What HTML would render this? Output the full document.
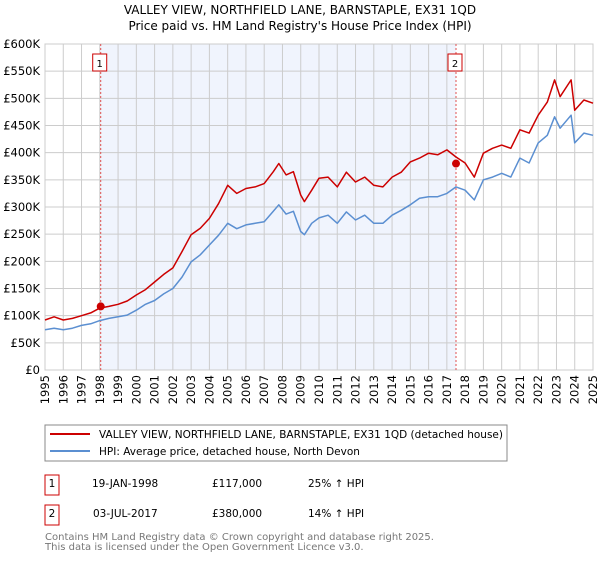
<!DOCTYPE html>
<html><head><meta charset="utf-8"><style>
body{margin:0;background:#fff;font-family:"DejaVu Sans","Liberation Sans",sans-serif;}
svg text{font-family:"DejaVu Sans","Liberation Sans",sans-serif;}
</style></head><body>
<svg id="chart" width="600" height="560" viewBox="0 0 600 560" xmlns="http://www.w3.org/2000/svg">
<text x="300" y="14" font-size="12" text-anchor="middle">VALLEY VIEW, NORTHFIELD LANE, BARNSTAPLE, EX31 1QD</text>
<text x="300" y="30" font-size="12" text-anchor="middle">Price paid vs. HM Land Registry's House Price Index (HPI)</text>
<g id="plot"></g>
<g>
<rect x="45" y="425" width="462" height="36" fill="#fff" stroke="#888"/>
<line x1="50" y1="434" x2="90" y2="434" stroke="#cc0000" stroke-width="2"/>
<text x="99" y="438" font-size="10.5">VALLEY VIEW, NORTHFIELD LANE, BARNSTAPLE, EX31 1QD (detached house)</text>
<line x1="50" y1="451" x2="90" y2="451" stroke="#5b8fd1" stroke-width="2"/>
<text x="99" y="455" font-size="10.5">HPI: Average price, detached house, North Devon</text>
</g>
<g font-size="10.5">
<rect x="45" y="475" width="14" height="20" fill="none" stroke="#cc0000"/>
<text x="52" y="487" text-anchor="middle">1</text>
<text x="92" y="487">19-JAN-1998</text>
<text x="212" y="487">£117,000</text>
<text x="308" y="487">25% ↑ HPI</text>
</g>
<g font-size="10.5">
<rect x="45" y="505" width="14" height="20" fill="none" stroke="#cc0000"/>
<text x="52" y="517" text-anchor="middle">2</text>
<text x="93" y="517">03-JUL-2017</text>
<text x="212" y="517">£380,000</text>
<text x="308" y="517">14% ↑ HPI</text>
</g>
<text x="45" y="540" font-size="10" fill="#777">Contains HM Land Registry data © Crown copyright and database right 2025.</text>
<text x="45" y="550" font-size="10" fill="#777">This data is licensed under the Open Government Licence v3.0.</text>
</svg>
<script>
const years=[1995,1995.5,1996,1996.5,1997,1997.5,1998,1998.5,1999,1999.5,2000,2000.5,2001,2001.5,2002,2002.5,2003,2003.5,2004,2004.5,2005,2005.5,2006,2006.5,2007,2007.5,2007.8,2008.2,2008.6,2009,2009.2,2009.6,2010,2010.5,2011,2011.5,2012,2012.5,2013,2013.5,2014,2014.5,2015,2015.5,2016,2016.5,2017,2017.5,2018,2018.5,2019,2019.5,2020,2020.5,2021,2021.5,2022,2022.5,2022.9,2023.2,2023.8,2024,2024.5,2025];
const priceSeries=[92,98,92,95,100,105,114,117,121,127,138,148,162,176,188,218,249,261,279,306,340,325,334,337,343,365,380,359,365,322,310,331,353,355,337,364,346,355,340,337,355,364,383,390,399,396,405,392,381,355,399,408,414,408,442,436,469,493,534,503,534,478,497,491];
const hpiSeries=[74,77,74,77,82,85,91,95,98,101,110,121,128,140,150,171,199,212,230,248,270,260,267,270,273,292,304,287,292,255,249,270,280,285,270,291,276,285,270,270,285,294,304,316,319,319,325,337,331,313,350,355,362,355,390,381,418,432,466,445,469,418,436,432];
const yTicks=[0,50,100,150,200,250,300,350,400,450,500,550,600];
const yTickLabels=["£0","£50K","£100K","£150K","£200K","£250K","£300K","£350K","£400K","£450K","£500K","£550K","£600K"];
const xTicks=[1995,1996,1997,1998,1999,2000,2001,2002,2003,2004,2005,2006,2007,2008,2009,2010,2011,2012,2013,2014,2015,2016,2017,2018,2019,2020,2021,2022,2023,2024,2025];
const saleYears=[1998.05,2017.5];
const saleValues=[117,380];
const saleLabels=["1","2"];
const X0=45,X1=593,Y0=370,Y1=44;
const x=v=>X0+(v-1995)/30*(X1-X0);
const y=v=>Y0-v/600*(Y0-Y1);
const NS="http://www.w3.org/2000/svg";
const g=document.getElementById('plot');
function el(t,a){const e=document.createElementNS(NS,t);for(const k in a)e.setAttribute(k,a[k]);g.appendChild(e);return e;}
let bg=el('rect',{x:X0,y:Y1,width:X1-X0,height:Y0-Y1,fill:'#fff',stroke:'#ccc'});


let sh=el('rect',{x:x(saleYears[0]),y:Y1,width:x(saleYears[1])-x(saleYears[0]),height:Y0-Y1,fill:'#f0f4fd'});


yTicks.forEach((t,i)=>{
 let l=el('line',{x1:X0,x2:X1,y1:y(t),y2:y(t),stroke:'#ccc'});
 
 
 let tx=el('text',{x:40,y:y(t)+4,'font-size':'11.5','text-anchor':'end'});
 tx.textContent=yTickLabels[i];
 
 
});
xTicks.forEach(t=>{
 let l=el('line',{x1:x(t),x2:x(t),y1:Y1,y2:Y0,stroke:'#ccc'});
 
 
 let tx=el('text',{x:0,y:0,'font-size':'11.5','text-anchor':'end',transform:`translate(${x(t)+4},375) rotate(-90)`});
 tx.textContent=t;
 
 
});
saleYears.forEach((s,i)=>{
 let l=el('line',{x1:x(s),x2:x(s),y1:Y1,y2:Y0,stroke:'#e05050','stroke-dasharray':'2,2'});
 
 
 let r=el('rect',{x:x(s)-8,y:54,width:14,height:17,fill:'#fff',stroke:'#cc0000'});
 
 
 let tx=el('text',{x:x(s)-1,y:67,'font-size':'10','text-anchor':'middle'});
 tx.textContent=saleLabels[i];
 
 
});
function path(vals,color,name){
 let d=vals.map((v,i)=>(i?'L':'M')+x(years[i]).toFixed(1)+','+y(v).toFixed(1)).join('');
 let p=el('path',{d:d,fill:'none',stroke:color,'stroke-width':'1.5','stroke-linejoin':'round'});
 
 
}
path(hpiSeries,'#5b8fd1','hpi-line');
path(priceSeries,'#cc0000','price-line');
saleYears.forEach((s,i)=>{
 let c=el('circle',{cx:x(s),cy:y(saleValues[i]),r:4,fill:'#cc0000'});
 
 
});
</script>
</body></html>
